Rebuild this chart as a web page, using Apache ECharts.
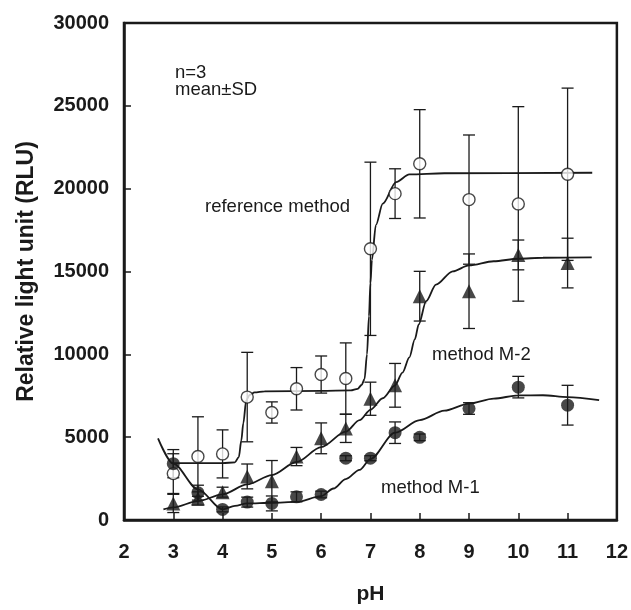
<!DOCTYPE html>
<html>
<head>
<meta charset="utf-8">
<script src="https://cdn.jsdelivr.net/npm/echarts@6/dist/echarts.min.js"></script>
<style>
html,body{margin:0;padding:0;background:#fff;}
#chart{width:631px;height:610px;}
</style>
</head>
<body>
<div id="chart"></div>
<script>
// ---- data ----
var phPoints = [3, 3.5, 4, 4.5, 5, 5.5, 6, 6.5, 7, 7.5, 8, 9, 10, 11];

var refMean = [2800, 3830, 3990, 7420, 6490, 7920, 8780, 8540, 16370, 19700, 21500, 19340, 19080, 20870];
var refSD   = [1200, 2400, 1450, 2700, 640, 1280, 1120, 2150, 5230, 1500, 3270, 3900, 5870, 5200];

var m2Mean = [1000, 1300, 1680, 2630, 2340, 3830, 4930, 5530, 7320, 8130, 13510, 13810, 16000, 15510];
var m2SD   = [550, 400, 300, 750, 1250, 550, 930, 850, 1000, 1320, 1500, 2250, 900, 1500];

var m1Mean = [3400, 1650, 640, 1080, 1000, 1400, 1540, 3730, 3730, 5270, 4990, 6730, 8020, 6930];
var m1SD   = [850, 450, 150, 300, 450, 300, 200, 150, 150, 650, 200, 350, 650, 1200];

// fitted curves
var refCurve = [[2.95,3430],[4.0,3430],[4.25,3480],[4.33,3800],[4.38,4800],[4.42,5830],[4.48,7230],[4.55,7550],[4.65,7700],[4.85,7770],[6.0,7800],[6.6,7820],[6.74,7920],[6.82,8150],[6.88,8500],[6.93,10000],[6.97,12300],[7.0,14300],[7.03,15700],[7.11,17800],[7.25,19100],[7.52,20400],[7.79,20860],[8.5,20930],[11.5,20960]];
var m2Curve = [[2.8,640],[3.0,760],[3.5,1140],[4.0,1550],[4.5,2150],[5.0,2710],[5.5,3500],[6.0,4400],[6.5,5330],[6.78,6030],[7.0,6650],[7.25,7350],[7.5,8130],[7.65,8900],[7.79,9820],[7.9,10900],[7.98,11810],[8.13,13210],[8.33,14210],[8.67,15010],[9.0,15370],[9.5,15620],[10.0,15770],[10.5,15830],[11.49,15850]];
var m1Curve = [[2.69,4930],[3.0,3400],[3.5,1850],[4.0,640],[4.25,850],[4.5,1000],[5.0,1040],[5.5,1090],[6.0,1440],[6.25,1900],[6.5,2470],[6.78,3030],[7.0,3680],[7.5,5270],[8.0,6030],[8.5,6600],[9.0,7030],[9.5,7330],[10.0,7520],[10.5,7530],[11.0,7420],[11.64,7230]];

var xTicks = {min: 2, max: 12, step: 1};
var yTicks = {min: 0, max: 30000, step: 5000};

var annotations = [
  {text: 'n=3', x: 175, y: 73},
  {text: 'mean\u00b1SD', x: 175, y: 90},
  {text: 'reference method', x: 205, y: 207},
  {text: 'method M-2', x: 432, y: 355},
  {text: 'method M-1', x: 381, y: 488}
];

// ---- build ----
var INK = '#1a1a1a';
var FONT = '"Liberation Sans", Arial, Helvetica, sans-serif';

function pairs(mean) { return phPoints.map(function (p, i) { return [p, mean[i]]; }); }
function errData(mean, sd) { return phPoints.map(function (p, i) { return [p, mean[i] - sd[i], mean[i] + sd[i]]; }); }

function errorSeries(mean, sd) {
  return {
    type: 'custom',
    data: errData(mean, sd),
    z: 3,
    renderItem: function (params, api) {
      var lo = api.coord([api.value(0), api.value(1)]);
      var hi = api.coord([api.value(0), api.value(2)]);
      var w = 6;
      var st = {stroke: INK, lineWidth: 1.3};
      return {
        type: 'group',
        children: [
          {type: 'line', shape: {x1: lo[0], y1: lo[1], x2: hi[0], y2: hi[1]}, style: st},
          {type: 'line', shape: {x1: lo[0] - w, y1: lo[1], x2: lo[0] + w, y2: lo[1]}, style: st},
          {type: 'line', shape: {x1: hi[0] - w, y1: hi[1], x2: hi[0] + w, y2: hi[1]}, style: st}
        ]
      };
    }
  };
}

function curveSeries(data) {
  return {
    type: 'line', data: data, showSymbol: false, symbol: 'none',
    smooth: 0.3, smoothMonotone: 'x',
    lineStyle: {color: INK, width: 1.8}, z: 2, silent: true
  };
}

var chart = echarts.init(document.getElementById('chart'), null, {renderer: 'canvas'});
chart.setOption({
  animation: false,
  backgroundColor: '#fff',
  grid: {left: 124, right: 13, top: 23, bottom: 86, show: true, borderColor: INK, borderWidth: 2.5, backgroundColor: 'transparent'},
  xAxis: {
    type: 'value', min: xTicks.min, max: xTicks.max, interval: xTicks.step,
    name: 'pH', nameLocation: 'middle', nameGap: 64,
    nameTextStyle: {fontFamily: FONT, fontWeight: 'bold', fontSize: 21, color: INK},
    axisLine: {show: true, lineStyle: {color: INK, width: 2.5}},
    axisTick: {show: true, inside: true, length: 7, lineStyle: {color: INK, width: 1.5}},
    axisLabel: {margin: 22, fontFamily: FONT, fontWeight: 'bold', fontSize: 20, color: INK},
    splitLine: {show: false}
  },
  yAxis: {
    type: 'value', min: yTicks.min, max: yTicks.max, interval: yTicks.step,
    name: 'Relative light unit (RLU)', nameLocation: 'middle', nameGap: 86,
    nameTextStyle: {fontFamily: FONT, fontWeight: 'bold', fontSize: 23, color: INK},
    axisLine: {show: true, lineStyle: {color: INK, width: 2.5}},
    axisTick: {show: true, inside: true, length: 7, lineStyle: {color: INK, width: 1.5}},
    axisLabel: {margin: 15, fontFamily: FONT, fontWeight: 'bold', fontSize: 20, color: INK,
      formatter: function (v) { return String(v); }},
    splitLine: {show: false}
  },
  graphic: annotations.map(function (a) {
    return {type: 'text', left: a.x, top: a.y - 10, z: 10,
      style: {text: a.text, font: '18.5px ' + FONT, fill: INK}};
  }),
  series: [
    curveSeries(refCurve),
    curveSeries(m2Curve),
    curveSeries(m1Curve),
    errorSeries(refMean, refSD),
    errorSeries(m2Mean, m2SD),
    errorSeries(m1Mean, m1SD),
    {type: 'scatter', data: pairs(refMean), symbol: 'circle', symbolSize: 12, z: 5,
      itemStyle: {color: '#fff', borderColor: INK, borderWidth: 1.4}},
    {type: 'scatter', data: pairs(m2Mean), symbol: 'triangle', symbolSize: 14, z: 5,
      itemStyle: {color: INK}},
    {type: 'scatter', data: pairs(m1Mean), symbol: 'circle', symbolSize: 13, z: 5,
      itemStyle: {color: INK}}
  ]
});
</script>
</body>
</html>
